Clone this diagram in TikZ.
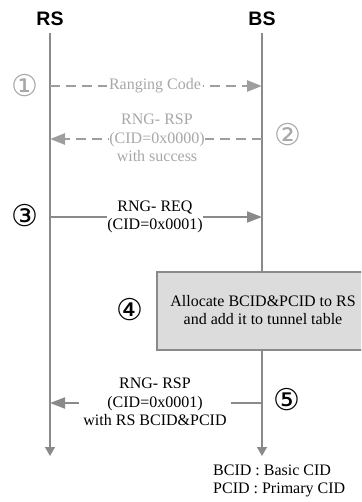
\documentclass[tikz,border=0pt]{standalone}
\usepackage{fontspec}
\setmainfont{Liberation Serif}
\newfontfamily\headfont{Liberation Sans}
\newfontfamily\numfont{DejaVu Sans}
\usetikzlibrary{arrows.meta}
\definecolor{softgray}{HTML}{A8A8A8}
\definecolor{linegray}{HTML}{8A8A8A}
\definecolor{dashgray}{HTML}{9E9E9E}
\definecolor{boxfill}{HTML}{DCDCDC}
\begin{document}
\begin{tikzpicture}[x=1pt,y=-1pt,
  head/.style={font=\headfont\bfseries\fontsize{19.5}{21}\selectfont},
  msg/.style={font=\fontsize{16}{18.5}\selectfont, align=center, fill=white, inner sep=2pt},
  num/.style={font=\numfont\fontsize{30}{30}\selectfont, inner sep=0pt},
  life/.style={draw=linegray, line width=1.4pt, -{Triangle[length=9pt,width=10pt]}},
  dmsg/.style={draw=dashgray, line width=2.6pt, dash pattern=on 10pt off 6pt, -{Triangle[length=15pt,width=11pt]}},
  smsg/.style={draw=linegray, line width=1.8pt, -{Triangle[length=15pt,width=11pt]}},
  procbox/.style={draw=linegray, line width=1.2pt, fill=boxfill},
  legend/.style={font=\fontsize{16}{18.5}\selectfont, align=left, anchor=west, inner sep=0pt}
]
\clip (0,0) rectangle (361,502);
\fill[white] (0,0) rectangle (361,502);

% headers
\node[head] (rs) at (50,19) {RS};
\node[head] (bs) at (262,19) {BS};

% lifeline coordinates
\coordinate (rstop) at (50,33);
\coordinate (rsbot) at (50,456);
\coordinate (bstop) at (262,33);
\coordinate (bsbot) at (262,456);
\draw[life] (rstop) -- (rsbot);
\draw[life] (bstop) -- (bsbot);

% message 1
\coordinate (m1a) at (50,86);
\coordinate (m1b) at (262,86);
\draw[dmsg] (m1a) -- (m1b);
\node[msg, text=softgray] (m1) at (155,86) {Ranging Code};
\node[num, text=softgray] (n1) at (25,86) {①};

% message 2
\coordinate (m2a) at (262,139);
\coordinate (m2b) at (50,139);
\draw[dmsg] (m2a) -- (m2b);
\node[msg, text=softgray, inner sep=0pt] (m2) at (157,138) {RNG- RSP\\(CID=0x0000)\\with success};
\node[num, text=softgray] (n2) at (288,135) {②};

% message 3
\coordinate (m3a) at (50,217);
\coordinate (m3b) at (262,217);
\draw[smsg] (m3a) -- (m3b);
\node[msg, inner sep=0pt] (m3) at (155,217) {RNG- REQ\\(CID=0x0001)};
\node[num] (n3) at (25,216) {③};

% process box
\draw[procbox] (157,272) rectangle (370,350);
\node[font=\fontsize{16}{18.5}\selectfont, align=center] (pb) at (263,310) {Allocate BCID\&PCID to RS\\and add it to tunnel table};
\node[num] (n4) at (130,310) {④};

% message 5
\coordinate (m5a) at (262,403);
\coordinate (m5b) at (50,403);
\draw[smsg] (m5a) -- (m5b);
\node[msg, inner sep=4pt] (m5) at (155,402) {RNG- RSP\\(CID=0x0001)\\with RS  BCID\&PCID};
\node[num] (n5) at (287,400) {⑤};

% legend
\node[legend] (lg) at (213,481) {BCID : Basic CID\\PCID : Primary CID};
\end{tikzpicture}
\end{document}
